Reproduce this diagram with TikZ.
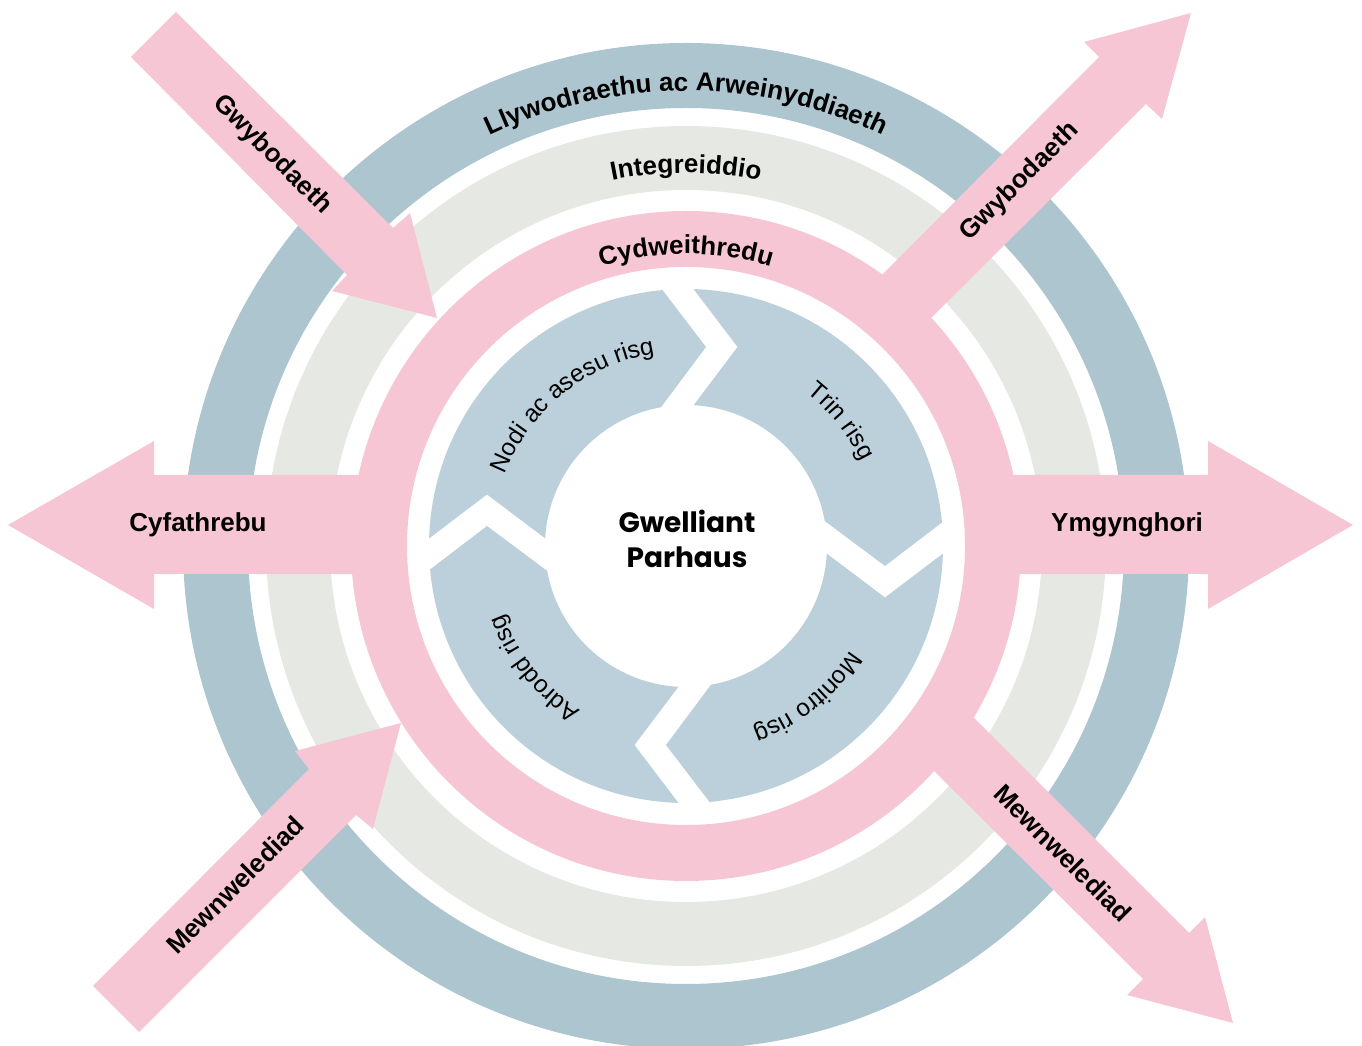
\documentclass[tikz,border=0pt]{standalone}
\usepackage{fontspec}
\setmainfont{Liberation Sans}
\newfontfamily\gpfont{Poppins}
\usetikzlibrary{decorations.text,calc}
\definecolor{ringblue}{HTML}{ADC5CF}
\definecolor{ringgrey}{HTML}{E6E8E3}
\definecolor{ringpink}{HTML}{F7C6D4}
\definecolor{segblue}{HTML}{BBD0DA}
\newcommand\lblfont{\fontsize{26pt}{30pt}\selectfont\bfseries}
\newcommand\segfont{\fontsize{24.5pt}{28pt}\selectfont}
\newcommand\ctrfont{\gpfont\bfseries\fontsize{28pt}{34pt}\selectfont}
\begin{document}
\begin{tikzpicture}[x=1pt,y=1pt,
  lbl/.style={font=\lblfont, inner sep=0pt},
  ctr/.style={font=\ctrfont, inner sep=0pt, anchor=base},
  pinkarrow/.style={fill=ringpink},
  ringtext/.style={decorate, decoration={text along path, text align=center, text={|\lblfont|#1}}},
  segtext/.style={decorate, decoration={text along path, text align=center, text={|\segfont|#1}}}]
\useasboundingbox (0,0) rectangle (1362,1046);
\coordinate (C) at (686,500);
% rings
\fill[ringblue, even odd rule] (C) circle[radius=503pt] (C) circle[radius=438pt];
\fill[ringgrey, even odd rule] (C) circle[radius=420pt] (C) circle[radius=356pt];
\fill[ringpink, even odd rule] (C) circle[radius=335pt] (C) circle[radius=279pt];
% inner cycle segments
\foreach \r in {0,-90,-180,-270} {
  \fill[segblue, shift={(686,500)}, rotate=\r]
    (88.3:257pt) arc[start angle=88.3, end angle=5.24, radius=257pt]
    -- (199,-20) -- (10.2:141pt) arc[start angle=10.2, end angle=86.9, radius=141pt]
    -- (51.5,199) -- cycle;
}
% arrows
\fill[pinkarrow] (8,521) -- (154,605) -- (154,571) -- (380,571) -- (380,472) -- (154,472) -- (154,437) -- cycle;
\fill[pinkarrow] (1353,521) -- (1208,605) -- (1208,571) -- (990,571) -- (990,472) -- (1208,472) -- (1208,437) -- cycle;
\fill[pinkarrow] (176,1034) -- (393,818) -- (410,833) -- (437,728) -- (332,755) -- (347,771) -- (131,989) -- cycle;
\fill[pinkarrow] (1191,1033) -- (1084,1004) -- (1099,989) -- (852,741) -- (901,698) -- (1146,942) -- (1162,927) -- cycle;
\fill[pinkarrow] (93,60) -- (309,277) -- (295,295) -- (401,323) -- (373,217) -- (356,231) -- (139,14) -- cycle;
\fill[pinkarrow] (943,359) -- (1189,113) -- (1205,129) -- (1233,23) -- (1127,51) -- (1143,67) -- (903,306) -- cycle;
% ring texts
\path[ringtext={Llywodraethu ac Arweinyddiaeth}] ($(C)+(150:455pt)$) arc[start angle=150, end angle=30, radius=455pt];
\path[ringtext={Integreiddio}] ($(C)+(150:373pt)$) arc[start angle=150, end angle=30, radius=373pt];
\path[ringtext={Cydweithredu}] ($(C)+(150:292pt)$) arc[start angle=150, end angle=30, radius=292pt];
% segment texts
\path[segtext={Trin risg}] ($(C)+(88.8:195pt)$) arc[start angle=88.8, end angle=-11.2, radius=195pt];
\path[segtext={Monitro risg}] ($(C)+(-1.2:195pt)$) arc[start angle=-1.2, end angle=-101.2, radius=195pt];
\path[segtext={Adrodd risg}] ($(C)+(-91.2:195pt)$) arc[start angle=-91.2, end angle=-191.2, radius=195pt];
\path[segtext={Nodi ac asesu risg}] ($(C)+(178.8:195pt)$) arc[start angle=178.8, end angle=78.8, radius=195pt];
% arrow labels
\node[lbl, anchor=base] (cyf) at (198,514) {Cyfathrebu};
\node[lbl, anchor=base] (ymg) at (1127,514) {Ymgynghori};
\node[lbl, rotate=-45] (gwyA) at (272,891) {Gwybodaeth};
\node[lbl, rotate=45] (gwyB) at (1020,864) {Gwybodaeth};
\node[lbl, rotate=45] (mewA) at (235,161) {Mewnwelediad};
\node[lbl, rotate=-45] (mewB) at (1063,193) {Mewnwelediad};
% centre
\node[ctr] (gwel) at (687,513.5) {Gwelliant};
\node[ctr] (parh) at (687,478) {Parhaus};
\end{tikzpicture}
\end{document}
